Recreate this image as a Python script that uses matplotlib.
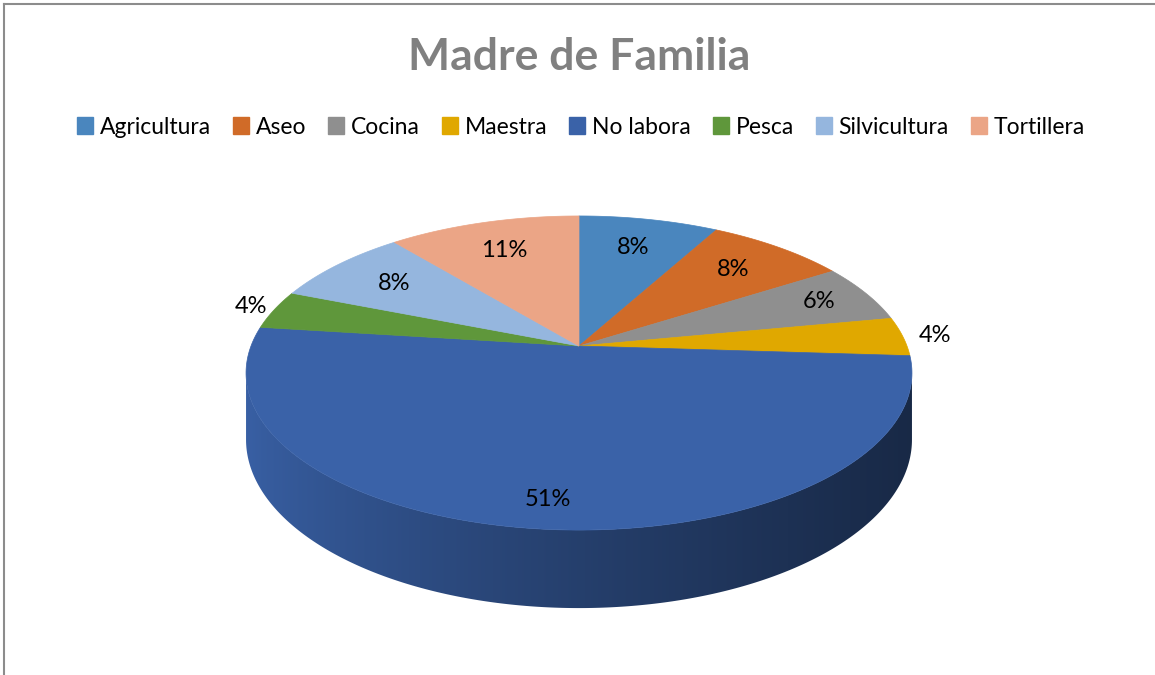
import numpy as np
import matplotlib.pyplot as plt
from matplotlib.patches import Patch, Polygon
from matplotlib.colors import to_rgb

plt.rcParams['font.family'] = ['Lato', 'DejaVu Sans']

categories = ['Agricultura', 'Aseo', 'Cocina', 'Maestra', 'No labora',
              'Pesca', 'Silvicultura', 'Tortillera']
percent = [8, 8, 6, 4, 51, 4, 8, 11]
colors = ['#4a86be', '#d06b28', '#8f8f8f', '#e0a800', '#3a62a8',
          '#5f973b', '#95b6de', '#eba586']

# where each % label sits (fraction of the radius)
label_r = [0.75, 0.75, 0.83, 1.1, 0.86, 1.08, 0.75, 0.75]

# 3d pie geometry in pixels
cx, cy = 579, 346
rx, ry = 328, 152.4
persp = 0.172
depth = 64.6


def proj(t, r=1.0, z=0.0):
    x = r * np.cos(t)
    y = r * np.sin(t)
    s = 1.0 / (1.0 + persp * y)
    return cx + rx * x * s, cy - ry * y * s + depth * z * s


fig = plt.figure(figsize=(11.55, 6.75), dpi=100)
ax = fig.add_axes([0, 0, 1, 1])
ax.set_xlim(0, 1155)
ax.set_ylim(675, 0)
ax.axis('off')

frac = np.array(percent, dtype=float) / sum(percent)
edges = np.pi / 2 - 2 * np.pi * np.concatenate([[0], np.cumsum(frac)])

# side wall (only the front part is visible), shaded left -> right
a = np.arcsin(persp)
vis_lo, vis_hi = -np.pi + a, -a
left_x = cx - rx / np.sqrt(1 - persp ** 2)
width_x = 2 * rx / np.sqrt(1 - persp ** 2)
for i in range(len(percent)):
    lo = max(edges[i + 1], vis_lo)
    hi = min(edges[i], vis_hi)
    if lo >= hi:
        continue
    ts = np.linspace(lo, hi, 300)
    tx, ty = proj(ts)
    bx, by = proj(ts[::-1], z=1)
    poly = Polygon(np.column_stack([np.concatenate([tx, bx]),
                                    np.concatenate([ty, by])]),
                   closed=True, fc='none', ec='none')
    ax.add_patch(poly)
    f = np.linspace(0, 1, 400)
    shade = 0.98 - 0.56 * f ** 0.75
    img = np.clip(np.array(to_rgb(colors[i]))[None, :] * shade[:, None], 0, 1)
    im = ax.imshow(img[None, :, :], extent=(left_x, left_x + width_x,
                                            by.max() + 2, ty.min() - 2),
                   aspect='auto', interpolation='bilinear')
    im.set_clip_path(poly)

# top face
for i in range(len(percent)):
    ts = np.linspace(edges[i], edges[i + 1], 200)
    xs, ys = proj(ts)
    ax.fill(np.concatenate([[cx], xs]), np.concatenate([[cy], ys]),
            color=colors[i], ec=colors[i], lw=0.5)

ax.set_xlim(0, 1155)
ax.set_ylim(675, 0)

# percentage labels
for i in range(len(percent)):
    mid = (edges[i] + edges[i + 1]) / 2
    lx, ly = proj(mid, r=label_r[i])
    ax.text(lx, ly, '%d%%' % round(frac[i] * 100), fontsize=17,
            ha='center', va='center', color='black')

ax.text(579, 57, 'Madre de Familia', fontsize=32, fontweight='bold',
        color='#808080', ha='center', va='center')

handles = [Patch(facecolor=c, edgecolor=c) for c in colors]
fig.legend(handles, categories, loc='center', ncol=8, frameon=False,
           bbox_to_anchor=(581 / 1155, 1 - 127 / 675), fontsize=16.5,
           handlelength=0.7, handleheight=0.7, handletextpad=0.3,
           columnspacing=0.95)

# chart border (left and top only)
ax.plot([4, 4], [4, 675], color='#8c8c8c', lw=1.5)
ax.plot([4, 1155], [4, 4], color='#8c8c8c', lw=1.5)

fig.savefig('out.png', dpi=100)
